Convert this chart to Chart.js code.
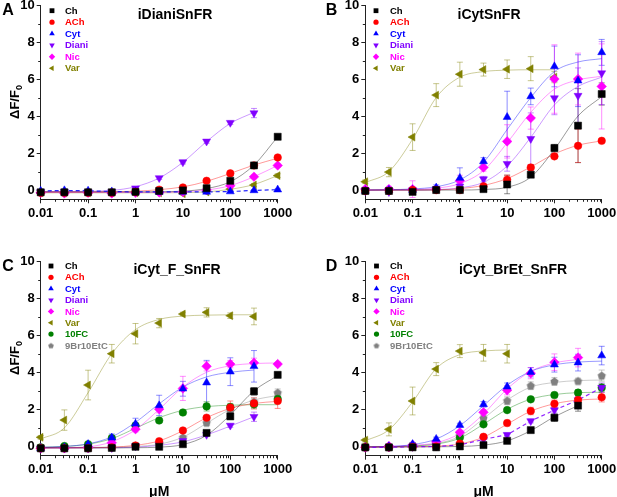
<!DOCTYPE html>
<html>
<head>
<meta charset="utf-8">
<script src="https://cdn.jsdelivr.net/npm/chart.js@4.4.1/dist/chart.umd.min.js"></script>
<style>
  body { margin: 0; background: #fff; width: 617px; height: 497px; overflow: hidden; position: relative; }
  canvas { position: absolute; left: 0; top: -20px; }
</style>
</head>
<body>
<canvas id="cA" width="640" height="540"></canvas>
<canvas id="cB" width="640" height="540"></canvas>
<canvas id="cC" width="640" height="540"></canvas>
<canvas id="cD" width="640" height="540"></canvas>
<script>
// doses (uM) shared by every panel
const doses = [0.01, 0.0316, 0.1, 0.316, 1, 3.16, 10, 31.6, 100, 316, 1000];
const xTickValues = [0.01, 0.1, 1, 10, 100, 1000];
const yTickValues = [0, 2, 4, 6, 8, 10];

// ---- A: iDianiSnFR ----
const A_Ch       = [-0.12, -0.12, -0.12, -0.12, -0.1, -0.05, -0.02, 0.1, 0.5, 1.33, 2.88];
const A_ChErr    = [0.05, 0.05, 0.05, 0.05, 0.05, 0.05, 0.05, 0.05, 0.08, 0.1, 0.1];
const A_ChFit    = [-0.1, -0.1, -0.1, -0.1, -0.1, -0.09, -0.06, 0.08, 0.45, 1.35, 2.88];
const A_ACh      = [-0.15, -0.15, -0.15, -0.14, -0.1, 0.02, 0.14, 0.5, 0.9, 1.33, 1.76];
const A_AChErr   = [0.05, 0.05, 0.05, 0.05, 0.05, 0.05, 0.05, 0.06, 0.08, 0.1, 0.1];
const A_AChFit   = [-0.1, -0.1, -0.1, -0.09, -0.06, 0.02, 0.17, 0.47, 0.9, 1.35, 1.72];
const A_Cyt      = [-0.05, -0.02, -0.04, -0.08, -0.1, -0.1, -0.1, -0.1, -0.08, -0.02, 0.02];
const A_CytErr   = [0.05, 0.05, 0.05, 0.05, 0.05, 0.05, 0.05, 0.05, 0.05, 0.05, 0.05];
const A_Diani    = [-0.1, -0.1, -0.1, -0.1, 0.1, 0.65, 1.51, 2.63, 3.64, 4.16, null];
const A_DianiErr = [0.05, 0.05, 0.05, 0.05, 0.05, 0.08, 0.1, 0.1, 0.1, 0.25, null];
const A_DianiFit = [-0.08, -0.08, -0.07, -0.02, 0.18, 0.65, 1.5, 2.62, 3.6, 4.2, null];
const A_Nic      = [-0.15, -0.18, -0.15, -0.18, -0.15, -0.13, -0.1, 0.0, 0.23, 0.72, 1.33];
const A_NicErr   = [0.05, 0.05, 0.05, 0.05, 0.05, 0.05, 0.05, 0.05, 0.06, 0.08, 0.1];
const A_NicFit   = [-0.13, -0.13, -0.13, -0.13, -0.13, -0.12, -0.09, 0.0, 0.24, 0.72, 1.33];
const A_Var      = [-0.15, -0.15, -0.15, -0.15, -0.15, -0.15, -0.2, -0.1, 0.05, 0.27, 0.78];
const A_VarErr   = [0.05, 0.05, 0.05, 0.05, 0.05, 0.05, 0.05, 0.05, 0.05, 0.08, 0.1];
const A_VarFit   = [-0.15, -0.15, -0.15, -0.15, -0.15, -0.15, -0.14, -0.1, 0.04, 0.3, 0.78];

// ---- B: iCytSnFR ----
const B_Ch       = [-0.05, -0.05, -0.1, 0.0, 0.0, 0.05, 0.3, 0.83, 2.27, 3.48, 5.19];
const B_ChErr    = [0.1, 0.1, 0.1, 0.1, 0.1, 0.1, 0.5, 0.1, 0.2, 2.0, 0.6];
const B_ChFit    = [0, 0, 0, 0, 0, 0.03, 0.15, 0.7, 2.2, 4.0, 5.05];
const B_ACh      = [-0.05, -0.05, 0.0, 0.0, 0.0, 0.2, 0.56, 1.22, 1.82, 2.39, 2.66];
const B_AChErr   = [0.1, 0.1, 0.1, 0.1, 0.1, 0.1, 0.25, 0.15, 0.1, 0.9, 0.1];
const B_AChFit   = [0, 0, 0, 0.01, 0.08, 0.25, 0.62, 1.25, 1.95, 2.42, 2.66];
const B_Cyt      = [-0.05, 0.0, 0.0, 0.13, 0.65, 1.55, 3.94, 5.06, 6.68, 5.91, 7.44];
const B_CytErr   = [0.1, 0.1, 0.15, 0.15, 0.55, 0.2, 1.4, 0.45, 1.1, 1.4, 0.7];
const B_CytFit   = [0, 0.02, 0.06, 0.18, 0.55, 1.5, 3.27, 5.0, 6.4, 6.92, 7.1];
const B_Diani    = [-0.05, -0.1, 0.0, 0.05, 0.2, 0.59, 1.42, 2.77, 4.97, 5.1, 6.32];
const B_DianiErr = [0.1, 0.1, 0.15, 0.1, 0.15, 0.15, 0.4, 1.4, 0.9, 1.5, 1.7];
const B_DianiFit = [0, 0, 0, 0.02, 0.12, 0.42, 1.3, 2.85, 4.6, 5.6, 6.1];
const B_Nic      = [0.05, 0.05, 0.05, 0.05, 0.5, 1.22, 2.63, 3.89, 6.0, 6.0, 5.6];
const B_NicErr   = [0.1, 0.15, 0.45, 0.15, 0.3, 0.2, 0.9, 0.6, 1.85, 1.4, 2.3];
const B_NicFit   = [0, 0.01, 0.03, 0.1, 0.35, 1.05, 2.55, 4.2, 5.45, 5.95, 6.15];
const B_Var      = [0.45, 0.97, 2.86, 5.13, 6.26, 6.51, 6.53, 6.56, 6.1, null, null];
const B_VarErr   = [0.1, 0.25, 0.72, 0.62, 0.65, 0.35, 0.5, 0.65, 0.3, null, null];
const B_VarFit   = [0.4, 1.0, 2.75, 5.0, 6.1, 6.4, 6.48, 6.5, 6.5, null, null];

// ---- C: iCyt_F_SnFR ----
const C_Ch       = [-0.1, -0.1, -0.1, -0.08, -0.02, -0.02, 0.12, 0.73, 1.62, 2.97, 3.86];
const C_ChErr    = [0.05, 0.05, 0.05, 0.05, 0.05, 0.05, 0.1, 0.1, 0.15, 0.2, 0.15];
const C_ChFit    = [-0.08, -0.08, -0.08, -0.08, -0.07, -0.04, 0.1, 0.6, 1.7, 3.0, 3.82];
const C_ACh      = [-0.1, -0.1, -0.1, -0.05, 0.05, 0.28, 0.86, 1.55, 2.1, 2.32, 2.45];
const C_AChErr   = [0.05, 0.05, 0.05, 0.05, 0.05, 0.1, 0.1, 0.1, 0.35, 0.3, 0.4];
const C_AChFit   = [-0.08, -0.08, -0.07, -0.04, 0.06, 0.3, 0.85, 1.55, 2.05, 2.32, 2.43];
const C_Cyt      = [-0.1, -0.05, 0.12, 0.47, 1.22, 2.21, 3.11, 3.44, 4.03, 4.32, null];
const C_CytErr   = [0.05, 0.05, 0.1, 0.2, 0.3, 0.55, 0.4, 1.2, 0.75, 0.85, null];
const C_CytFit   = [-0.05, 0.0, 0.14, 0.52, 1.3, 2.3, 3.2, 3.75, 4.0, 4.12, null];
const C_Diani    = [-0.1, -0.1, -0.1, -0.08, 0.02, 0.1, 0.3, 0.63, 1.13, 1.6, null];
const C_DianiErr = [0.05, 0.05, 0.05, 0.05, 0.05, 0.1, 0.1, 0.1, 0.1, 0.25, null];
const C_DianiFit = [-0.08, -0.08, -0.08, -0.07, -0.04, 0.06, 0.25, 0.62, 1.1, 1.6, null];
const C_Nic      = [-0.1, -0.1, -0.05, 0.2, 0.93, 2.01, 3.13, 4.32, 4.44, 4.51, 4.44];
const C_NicErr   = [0.05, 0.05, 0.05, 0.1, 0.15, 0.2, 0.65, 0.25, 0.2, 0.25, 0.1];
const C_NicFit   = [-0.08, -0.07, -0.02, 0.25, 0.9, 2.0, 3.2, 4.0, 4.35, 4.47, 4.5];
const C_Var      = [0.49, 1.42, 3.31, 5.0, 6.08, 6.65, 7.14, 7.23, 7.05, 7.01, null];
const C_VarErr   = [0.1, 0.55, 0.8, 0.5, 0.55, 0.25, 0.1, 0.25, 0.15, 0.45, null];
const C_VarFit   = [0.4, 1.0, 2.9, 5.0, 6.3, 6.85, 7.03, 7.08, 7.1, 7.1, null];
const C_10FC     = [-0.05, 0.02, 0.12, 0.45, 1.13, 1.4, 1.83, 2.16, 2.12, 2.27, 2.56];
const C_10FCErr  = [0.05, 0.05, 0.08, 0.1, 0.1, 0.1, 0.1, 0.25, 0.2, 0.2, 0.15];
const C_10FCFit  = [-0.05, 0.0, 0.12, 0.42, 0.98, 1.55, 1.95, 2.15, 2.22, 2.25, 2.25];
const C_9Br      = [-0.08, -0.08, -0.08, -0.05, 0.05, 0.15, 0.49, 1.28, 1.95, 2.41, 2.9];
const C_9BrErr   = [0.05, 0.05, 0.05, 0.05, 0.05, 0.1, 0.1, 0.15, 0.15, 0.2, 0.2];
const C_9BrFit   = [-0.05, -0.05, -0.05, -0.04, 0.0, 0.12, 0.5, 1.25, 2.0, 2.5, 2.75];

// ---- D: iCyt_BrEt_SnFR ----
const D_Ch       = [-0.05, -0.05, -0.05, -0.05, 0.0, 0.07, 0.3, 0.88, 1.55, 2.2, null];
const D_ChErr    = [0.05, 0.05, 0.05, 0.05, 0.05, 0.05, 0.1, 0.1, 0.2, 0.3, null];
const D_ChFit    = [-0.03, -0.03, -0.03, -0.02, 0.0, 0.07, 0.3, 0.85, 1.6, 2.2, null];
const D_ACh      = [-0.05, -0.05, -0.03, 0.0, 0.15, 0.52, 1.26, 1.91, 2.3, 2.5, 2.65];
const D_AChErr   = [0.05, 0.05, 0.05, 0.05, 0.08, 0.1, 0.15, 0.2, 0.2, 0.2, 0.25];
const D_AChFit   = [-0.03, -0.03, -0.02, 0.02, 0.13, 0.5, 1.2, 1.9, 2.3, 2.5, 2.56];
const D_Cyt      = [-0.05, 0.0, 0.12, 0.4, 1.15, 2.27, 3.22, 4.0, 4.41, 4.52, 4.9];
const D_CytErr   = [0.05, 0.05, 0.08, 0.1, 0.1, 0.15, 0.2, 0.25, 0.4, 0.45, 0.5];
const D_CytFit   = [-0.03, 0.0, 0.1, 0.4, 1.12, 2.2, 3.3, 4.05, 4.4, 4.55, 4.6];
const D_Diani    = [-0.05, -0.05, -0.02, 0.0, 0.08, 0.38, 0.63, 1.37, 1.96, 2.5, 3.17];
const D_DianiErr = [0.05, 0.05, 0.05, 0.05, 0.05, 0.1, 0.1, 0.1, 0.15, 0.2, 0.25];
const D_Nic      = [-0.05, 0.02, 0.08, 0.25, 0.76, 1.84, 3.03, 3.95, 4.54, 4.79, null];
const D_NicErr   = [0.05, 0.05, 0.05, 0.08, 0.1, 0.15, 0.25, 0.3, 0.45, 0.5, null];
const D_NicFit   = [-0.03, 0.0, 0.06, 0.2, 0.7, 1.75, 3.1, 4.05, 4.5, 4.7, null];
const D_Var      = [0.34, 0.92, 2.45, 4.17, 5.14, 5.05, 5.0, null, null, null, null];
const D_VarErr   = [0.1, 0.35, 0.75, 0.35, 0.35, 0.45, 0.5, null, null, null, null];
const D_VarFit   = [0.3, 0.9, 2.4, 4.2, 4.95, 5.15, 5.2, null, null, null, null];
const D_10FC     = [-0.05, -0.03, 0.05, 0.15, 0.48, 1.19, 1.96, 2.54, 2.77, 2.9, 3.17];
const D_10FCErr  = [0.05, 0.05, 0.05, 0.05, 0.08, 0.1, 0.1, 0.1, 0.15, 0.15, 0.2];
const D_10FCFit  = [-0.03, -0.02, 0.03, 0.12, 0.45, 1.2, 2.0, 2.55, 2.8, 2.9, 2.92];
const D_9Br      = [-0.05, -0.03, 0.03, 0.15, 0.6, 1.53, 2.47, 3.28, 3.51, 3.53, 3.82];
const D_9BrErr   = [0.05, 0.05, 0.05, 0.08, 0.1, 0.15, 0.2, 0.2, 0.2, 0.15, 0.3];
const D_9BrFit   = [-0.03, -0.02, 0.03, 0.15, 0.55, 1.5, 2.5, 3.2, 3.45, 3.55, 3.58];

Chart.defaults.font.family = "'Liberation Sans', Arial, sans-serif";
const OY = 20; // canvases sit 20px above the page top

function pentagon(color, r) {
  const c = document.createElement('canvas');
  const s = Math.ceil(r * 2 + 2);
  c.width = c.height = s;
  const g = c.getContext('2d');
  g.fillStyle = color;
  g.beginPath();
  for (let k = 0; k < 5; k++) {
    const a = -Math.PI / 2 + k * 2 * Math.PI / 5;
    const px = s / 2 + r * Math.cos(a), py = s / 2 + r * Math.sin(a) + 0.4;
    if (k) g.lineTo(px, py); else g.moveTo(px, py);
  }
  g.closePath();
  g.fill();
  return c;
}

// marker look per compound
const STY = {
  'Ch':       { color: '#000000', style: 'rect', rot: 0, r: 5 },
  'ACh':      { color: '#ff0000', style: 'circle', rot: 0, r: 3.8 },
  'Cyt':      { color: '#0000ff', style: 'triangle', rot: 0, r: 4.6 },
  'Diani':    { color: '#8000ff', style: 'triangle', rot: 180, r: 4.6 },
  'Nic':      { color: '#ff00ff', style: 'rectRot', rot: 0, r: 4.8 },
  'Var':      { color: '#808000', style: 'triangle', rot: -90, r: 4.6 },
  '10FC':     { color: '#008000', style: 'circle', rot: 0, r: 3.8 },
  '9Br10EtC': { color: '#808080', style: pentagon('#808080', 4.3), rot: 0, r: 4.3 }
};
const legendPent = pentagon('#808080', 3);

function rgba(hex, a) {
  const n = parseInt(hex.slice(1), 16);
  return 'rgba(' + (n >> 16) + ',' + ((n >> 8) & 255) + ',' + (n & 255) + ',' + a + ')';
}

function pts(vals, errs) {
  const out = [];
  vals.forEach((v, i) => {
    if (v !== null) out.push({ x: doses[i], y: v, e: errs ? errs[i] : 0 });
  });
  return out;
}

// [name, values, errors, fit, dashedConnect]
function buildSets(rows) {
  const fits = [], marks = [];
  rows.forEach(([name, vals, errs, fit, dashed]) => {
    const s = STY[name];
    if (fit) {
      fits.push({
        data: pts(fit), borderColor: rgba(s.color, 0.4), borderWidth: 1,
        pointRadius: 0, cubicInterpolationMode: 'monotone', clip: false, order: 2
      });
    }
    marks.push({
      data: pts(vals, errs), errColor: rgba(s.color, 0.45),
      showLine: !!dashed, borderColor: rgba(s.color, 0.85), borderWidth: 1.2, borderDash: [4, 3],
      pointStyle: s.style, pointRotation: s.rot, pointRadius: s.r,
      pointBackgroundColor: s.color, pointBorderColor: s.color, pointBorderWidth: 0.5,
      clip: false, order: 1
    });
  });
  return fits.concat(marks);
}

const errorBars = {
  id: 'errorBars',
  beforeDatasetsDraw(chart) {
    const ctx = chart.ctx, ys = chart.scales.y;
    chart.data.datasets.forEach((ds, i) => {
      if (!ds.errColor) return;
      const meta = chart.getDatasetMeta(i);
      ctx.save();
      ctx.strokeStyle = ds.errColor;
      ctx.lineWidth = 1;
      meta.data.forEach((el, j) => {
        const d = ds.data[j];
        if (!d.e) return;
        const top = ys.getPixelForValue(d.y + d.e), bot = ys.getPixelForValue(d.y - d.e);
        ctx.beginPath();
        ctx.moveTo(el.x, top); ctx.lineTo(el.x, bot);
        ctx.moveTo(el.x - 3, top); ctx.lineTo(el.x + 3, top);
        ctx.moveTo(el.x - 3, bot); ctx.lineTo(el.x + 3, bot);
        ctx.stroke();
      });
      ctx.restore();
    });
  }
};

const minorTicks = {
  id: 'minorTicks',
  afterDraw(chart) {
    const ctx = chart.ctx, xs = chart.scales.x, ys = chart.scales.y;
    const a = chart.chartArea;
    ctx.save();
    ctx.strokeStyle = '#222';
    ctx.lineWidth = 1;
    ctx.beginPath();
    [0.01, 0.1, 1, 10, 100].forEach(d => {
      for (let m = 2; m <= 9; m++) {
        const px = Math.round(xs.getPixelForValue(d * m)) + 0.5;
        ctx.moveTo(px, a.bottom); ctx.lineTo(px, a.bottom + 2.5);
      }
    });
    [1, 3, 5, 7, 9].forEach(v => {
      const py = Math.round(ys.getPixelForValue(v)) + 0.5;
      ctx.moveTo(a.left, py); ctx.lineTo(a.left - 2.5, py);
    });
    ctx.stroke();
    ctx.restore();
  }
};

function deco(cfg) {
  return {
    id: 'deco',
    afterDraw(chart) {
      const ctx = chart.ctx;
      ctx.save();
      ctx.fillStyle = '#000';
      ctx.textBaseline = 'alphabetic';
      ctx.textAlign = 'center';
      ctx.font = "bold 16px 'Liberation Sans', Arial, sans-serif";
      ctx.fillText(cfg.letter, cfg.letterX, cfg.letterY + OY);
      ctx.font = "bold 14px 'Liberation Sans', Arial, sans-serif";
      ctx.fillText(cfg.title, cfg.titleX, cfg.titleY + OY);

      // legend
      ctx.textAlign = 'left';
      ctx.textBaseline = 'middle';
      ctx.font = "bold 9.5px 'Liberation Sans', Arial, sans-serif";
      cfg.legend.forEach((name, k) => {
        const s = STY[name];
        const y = cfg.legY + k * cfg.legDy + OY;
        ctx.fillStyle = s.color;
        const style = typeof s.style === 'string' ? s.style : legendPent;
        const r = s.style === 'rect' ? 3.4 : (s.style === 'circle' ? 2.6 : 3.2);
        if (Chart.helpers && Chart.helpers.drawPoint) {
          Chart.helpers.drawPoint(ctx, { pointStyle: style, rotation: s.rot, radius: r, borderWidth: 0 }, cfg.markX, y);
        } else {
          ctx.beginPath(); ctx.arc(cfg.markX, y, r, 0, Math.PI * 2); ctx.fill();
        }
        ctx.fillStyle = s.color;
        ctx.fillText(name, cfg.textX, y + 0.5);
      });

      // y label with subscript
      if (cfg.yLabel) {
        ctx.fillStyle = '#000';
        ctx.translate(cfg.yLabelX, cfg.yLabelY + OY);
        ctx.rotate(-Math.PI / 2);
        ctx.textBaseline = 'alphabetic';
        ctx.font = "bold 13px 'Liberation Sans', Arial, sans-serif";
        const w1 = ctx.measureText('\u0394F/F').width;
        ctx.font = "bold 9px 'Liberation Sans', Arial, sans-serif";
        const w2 = ctx.measureText('0').width;
        const x0 = -(w1 + w2) / 2;
        ctx.font = "bold 13px 'Liberation Sans', Arial, sans-serif";
        ctx.fillText('\u0394F/F', x0, 4.5);
        ctx.font = "bold 9px 'Liberation Sans', Arial, sans-serif";
        ctx.fillText('0', x0 + w1, 7.5);
      }
      ctx.restore();
    }
  };
}

const tickFont = { size: 13, weight: 'bold' };

function makeChart(id, cfg) {
  const W = 640, H = 540;
  const pad = {
    left: cfg.L - cfg.yw,
    top: cfg.T + OY,
    right: W - cfg.R,
    bottom: H - (cfg.B + OY) - cfg.xh
  };
  return new Chart(document.getElementById(id), {
    type: 'line',
    data: { datasets: cfg.datasets },
    options: {
      responsive: false,
      animation: false,
      events: [],
      layout: { padding: pad },
      plugins: { legend: { display: false }, tooltip: { enabled: false } },
      scales: {
        x: {
          type: 'logarithmic', min: 0.01, max: 1000,
          afterBuildTicks: s => { s.ticks = xTickValues.map(v => ({ value: v })); },
          afterFit: s => { s.height = cfg.xh; },
          ticks: { color: '#000', font: tickFont, padding: 2, autoSkip: false, maxRotation: 0, minRotation: 0,
                   callback: v => String(v) },
          grid: { drawOnChartArea: false, drawTicks: true, tickLength: 4, color: '#222', lineWidth: 1 },
          border: { display: true, color: '#222', width: 1 },
          title: cfg.xTitle
            ? { display: true, text: '\u03bcM', color: '#000', font: { size: 14, weight: 'bold', lineHeight: 1.2 },
                padding: { top: 0, bottom: 0 } }
            : { display: false }
        },
        y: {
          type: 'linear', min: -0.5, max: 10,
          afterBuildTicks: s => { s.ticks = yTickValues.map(v => ({ value: v })); },
          afterFit: s => { s.width = cfg.yw; },
          ticks: { color: '#000', font: tickFont, padding: 2 },
          grid: { drawOnChartArea: false, drawTicks: true, tickLength: 4, color: '#222', lineWidth: 1 },
          border: { display: true, color: '#222', width: 1 }
        }
      }
    },
    plugins: [errorBars, minorTicks, deco(cfg)]
  });
}

const legend6 = ['Ch', 'ACh', 'Cyt', 'Diani', 'Nic', 'Var'];
const legend8 = ['Ch', 'ACh', 'Cyt', 'Diani', 'Nic', 'Var', '10FC', '9Br10EtC'];

makeChart('cA', {
  L: 40.7, T: 5, R: 277.7, B: 199.3, yw: 40.7, xh: 40, xTitle: false,
  letter: 'A', letterX: 8, letterY: 15, title: 'iDianiSnFR', titleX: 175, titleY: 19,
  legend: legend6, markX: 52, textX: 65, legY: 10.7, legDy: 11.5,
  yLabel: true, yLabelX: 14, yLabelY: 102,
  datasets: buildSets([
    ['Ch', A_Ch, A_ChErr, A_ChFit],
    ['ACh', A_ACh, A_AChErr, A_AChFit],
    ['Cyt', A_Cyt, A_CytErr, null, true],
    ['Diani', A_Diani, A_DianiErr, A_DianiFit],
    ['Nic', A_Nic, A_NicErr, A_NicFit],
    ['Var', A_Var, A_VarErr, A_VarFit]
  ])
});

makeChart('cB', {
  L: 365.3, T: 5, R: 601.7, B: 199.3, yw: 40, xh: 40, xTitle: false,
  letter: 'B', letterX: 331.5, letterY: 15, title: 'iCytSnFR', titleX: 489, titleY: 19,
  legend: legend6, markX: 376, textX: 390, legY: 10.7, legDy: 11.5,
  yLabel: false,
  datasets: buildSets([
    ['Ch', B_Ch, B_ChErr, B_ChFit],
    ['ACh', B_ACh, B_AChErr, B_AChFit],
    ['Cyt', B_Cyt, B_CytErr, B_CytFit],
    ['Diani', B_Diani, B_DianiErr, B_DianiFit],
    ['Nic', B_Nic, B_NicErr, B_NicFit],
    ['Var', B_Var, B_VarErr, B_VarFit]
  ])
});

makeChart('cC', {
  L: 40.7, T: 261, R: 277.7, B: 455.7, yw: 40.7, xh: 45, xTitle: true,
  letter: 'C', letterX: 8, letterY: 271, title: 'iCyt_F_SnFR', titleX: 177, titleY: 274,
  legend: legend8, markX: 51, textX: 65, legY: 266, legDy: 11.35,
  yLabel: true, yLabelX: 14, yLabelY: 358,
  datasets: buildSets([
    ['Ch', C_Ch, C_ChErr, C_ChFit],
    ['ACh', C_ACh, C_AChErr, C_AChFit],
    ['Cyt', C_Cyt, C_CytErr, C_CytFit],
    ['Diani', C_Diani, C_DianiErr, C_DianiFit],
    ['Nic', C_Nic, C_NicErr, C_NicFit],
    ['Var', C_Var, C_VarErr, C_VarFit],
    ['10FC', C_10FC, C_10FCErr, C_10FCFit],
    ['9Br10EtC', C_9Br, C_9BrErr, C_9BrFit]
  ])
});

makeChart('cD', {
  L: 365.3, T: 261, R: 601.7, B: 455.7, yw: 40, xh: 45, xTitle: true,
  letter: 'D', letterX: 331.5, letterY: 271, title: 'iCyt_BrEt_SnFR', titleX: 513, titleY: 274,
  legend: legend8, markX: 376.5, textX: 390, legY: 266, legDy: 11.35,
  yLabel: false,
  datasets: buildSets([
    ['Ch', D_Ch, D_ChErr, D_ChFit],
    ['ACh', D_ACh, D_AChErr, D_AChFit],
    ['Cyt', D_Cyt, D_CytErr, D_CytFit],
    ['Diani', D_Diani, D_DianiErr, null, true],
    ['Nic', D_Nic, D_NicErr, D_NicFit],
    ['Var', D_Var, D_VarErr, D_VarFit],
    ['10FC', D_10FC, D_10FCErr, D_10FCFit],
    ['9Br10EtC', D_9Br, D_9BrErr, D_9BrFit]
  ])
});
</script>
</body>
</html>
